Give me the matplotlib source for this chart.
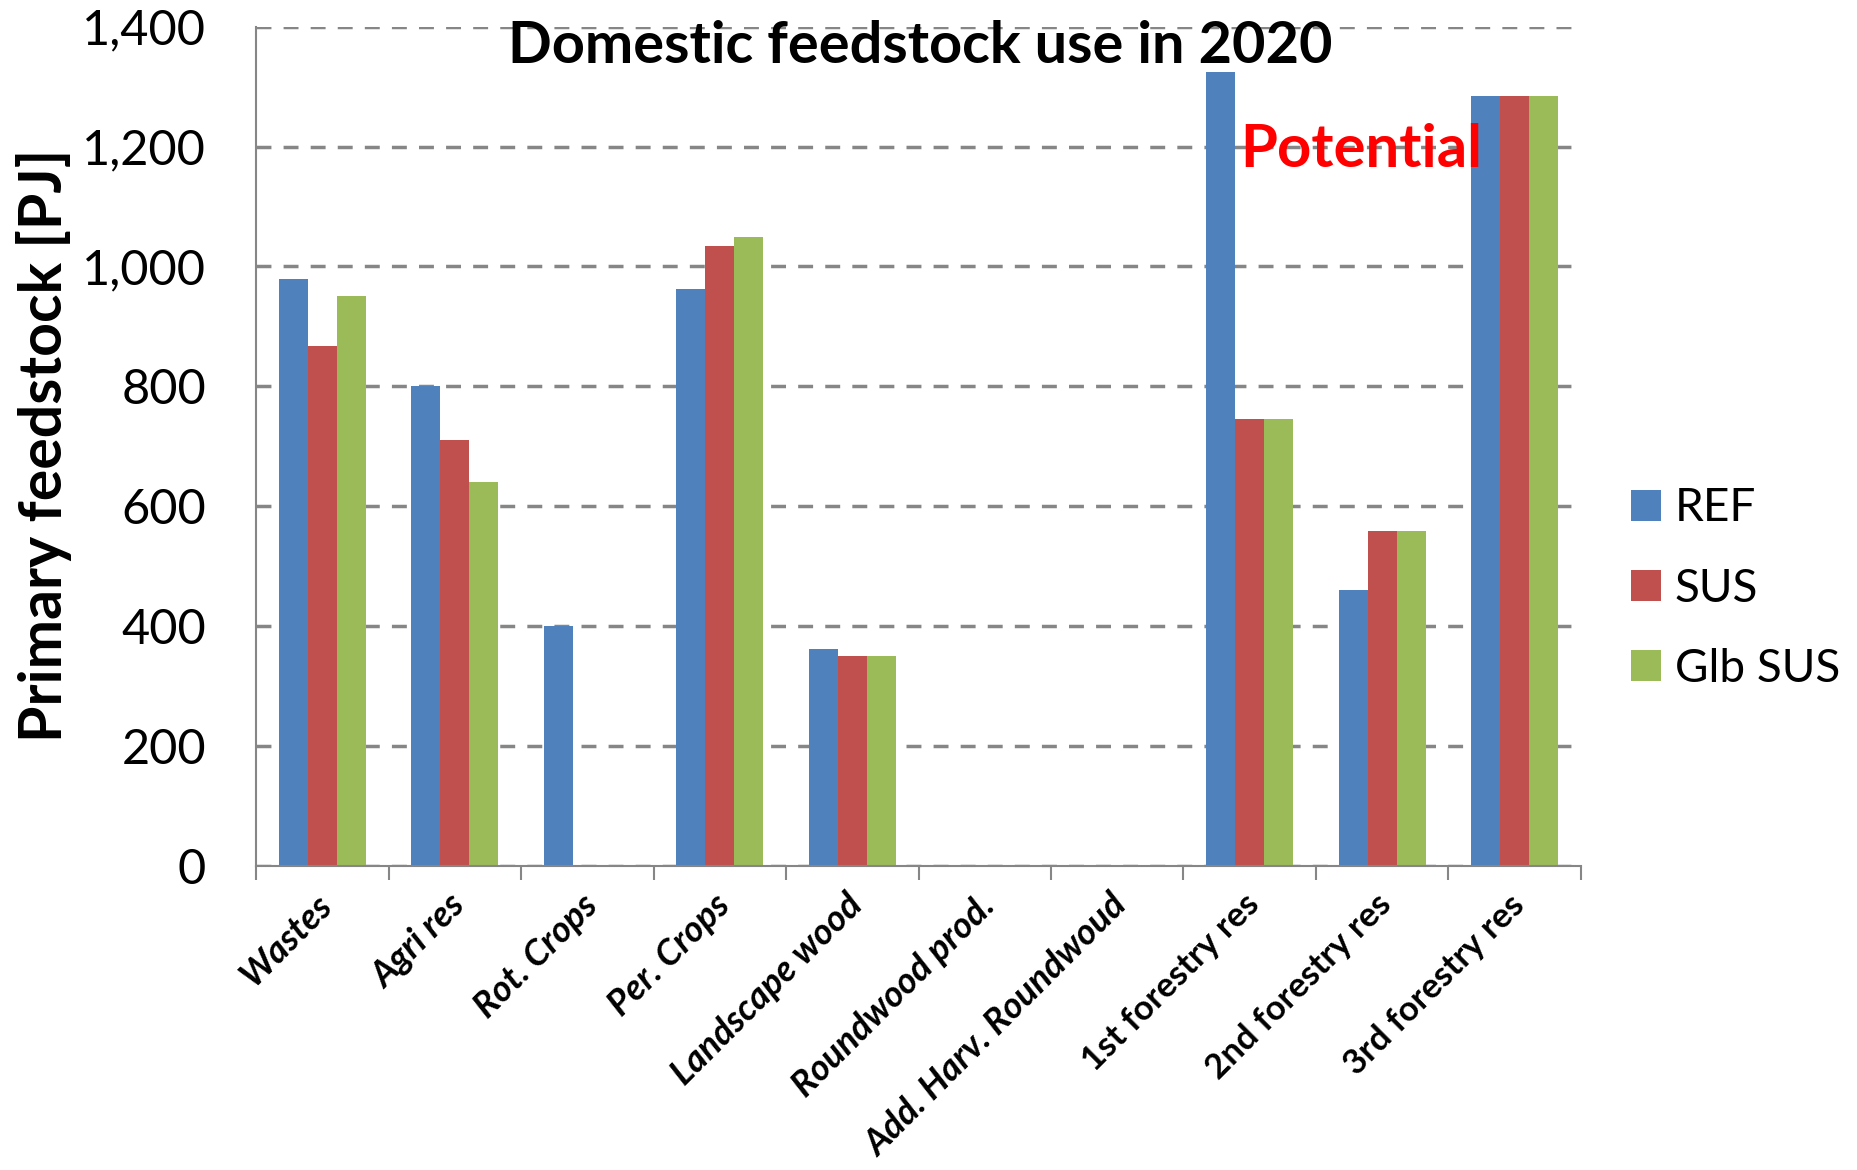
import numpy as np
import matplotlib.pyplot as plt
from matplotlib.ticker import FuncFormatter
from matplotlib.transforms import ScaledTranslation

plt.rcParams['font.family'] = ['Lato', 'DejaVu Sans']

categories = ['Wastes', 'Agri res', 'Rot. Crops', 'Per. Crops', 'Landscape wood',
              'Roundwood prod.', 'Add. Harv. Roundwoud', '1st forestry res',
              '2nd forestry res', '3rd forestry res']
italic_labels = [True, True, True, True, True, True, True, False, False, False]

ref = [979, 801, 401, 963, 362, 0, 0, 1324, 461, 1285]
sus = [867, 711, 0, 1035, 350, 0, 0, 745, 558, 1285]
glb = [951, 641, 0, 1050, 350, 0, 0, 745, 558, 1285]

series = ['REF', 'SUS', 'Glb SUS']
colors = ['#4F81BD', '#C0504D', '#9BBB59']
yticks = [0, 200, 400, 600, 800, 1000, 1200, 1400]

fig = plt.figure(figsize=(18.58, 11.70), dpi=100)
ax = fig.add_axes([0.1378, 0.2598, 0.7131, 0.7174])

x = np.arange(len(categories))
w = 0.22
for k, (vals, name, c) in enumerate(zip([ref, sus, glb], series, colors)):
    ax.bar(x + (k - 1) * w, vals, w, color=c, label=name, linewidth=0)

ax.set_xlim(-0.5, len(categories) - 0.5)
ax.set_ylim(0, 1400)
ax.set_yticks(yticks)
ax.yaxis.set_major_formatter(FuncFormatter(lambda v, p: '{:,.0f}'.format(v)))
ax.yaxis.grid(True, color='#868686', lw=2.5, linestyle=(0, (4.3, 3.5)))
ax.set_axisbelow(True)

for s in ['top', 'right']:
    ax.spines[s].set_visible(False)
for s in ['left', 'bottom']:
    ax.spines[s].set_color('#868686')
    ax.spines[s].set_linewidth(1.5)

ax.tick_params(axis='y', length=0, pad=36, labelsize=35)
ax.set_xticks(x)
ax.set_xticks(np.arange(-0.5, len(categories), 1), minor=True)
ax.tick_params(axis='x', which='major', length=0, pad=16)
ax.tick_params(axis='x', which='minor', length=10, width=1.5, color='#868686', direction='out')
ax.set_xticklabels(categories, rotation=45, ha='right', va='top',
                   rotation_mode='anchor', fontsize=26, fontweight='bold')
offset = ScaledTranslation(-7 / 100, 0, fig.dpi_scale_trans)
for lab, it in zip(ax.get_xticklabels(), italic_labels):
    lab.set_style('italic' if it else 'normal')
    if not it:
        lab.set_fontsize(25)
    lab.set_transform(lab.get_transform() + offset)

ax.text(0.501, 0.9568, 'Domestic feedstock use in 2020', transform=ax.transAxes,
        ha='center', va='baseline', fontsize=41.5, fontweight='bold')
ax.text(0.7426, 0.8329, 'Potential', transform=ax.transAxes, ha='left',
        va='baseline', fontsize=43, fontweight='bold', color='#FF0000')

fig.text(0.0237, 0.619, 'Primary feedstock [PJ]', rotation=90, ha='center',
         va='center', fontsize=42.5, fontweight='bold')

fig.legend(loc='center left', bbox_to_anchor=(0.878, 0.497), frameon=False,
           fontsize=33, handlelength=0.65, handleheight=0.65, handletextpad=0.3,
           labelspacing=0.83, borderpad=0, borderaxespad=0)

fig.savefig('out.png', dpi=100)
